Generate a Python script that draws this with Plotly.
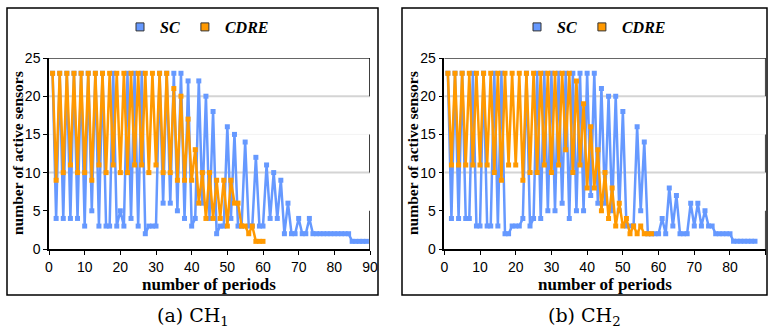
import plotly.graph_objects as go

# ---------------- data ----------------
# (a) CH1
ch1_sc = [23,4,23,4,23,4,23,4,23,3, 23,5,23,3,23,3,3,23,3,5,
          3,23,4,23,3,23,2,3,3,3, 23,6,23,6,23,5,23,4,22,3,
          4,22,6,20,4,18,2,3,3,16, 4,15,3,3,14,3,3,12,3,3,
          11,4,10,4,9,2,6,2,2,4, 2,2,4,2,2,2,2,2,2,2,
          2,2,2,2,1,1,1,1,1]
ch1_cdre = [23,9,23,10,23,11,23,10,23,10, 23,9,23,11,23,10,23,11,23,10,
            23,10,23,11,23,11,23,10,23,11, 23,10,23,10,21,9,20,9,17,9,
            13,6,10,4,10,4,9,4,9,3, 9,6,6,3,3,2,3,1,1,1]
# (b) CH2
ch2_sc = [23,4,23,4,23,4,4,23,3,3, 23,3,3,23,3,23,2,2,3,3,
          3,4,23,3,4,23,4,23,5,23, 5,23,6,23,4,23,5,23,5,23,
          7,23,6,21,6,20,5,20,5,18, 3,3,3,16,5,14,2,2,2,2,
          4,2,8,3,7,2,2,2,6,3, 6,3,5,3,3,2,2,2,2,2,
          1,1,1,1,1,1,1]
ch2_cdre = [23,11,23,11,23,11,23,11,23,11, 23,11,23,10,23,9,23,11,23,11,
            23,9,23,10,23,10,23,11,23,10, 23,11,23,13,23,10,22,11,19,8,
            16,8,13,5,10,4,8,3,6,3, 4,2,3,2,3,2,2,2]

x_ticks = [0, 10, 20, 30, 40, 50, 60, 70, 80, 90]
y_ticks = [0, 5, 10, 15, 20, 25]
series_names = ["SC", "CDRE"]
captions = ["(a) CH<sub>1</sub>", "(b) CH<sub>2</sub>"]

BLUE = "#6699ff"
ORANGE = "#ff9900"
W, H = 769, 331

fig = go.Figure()

panels = [
    dict(sc=ch1_sc, cdre=ch1_cdre, xa="x", ya="y", leg="legend"),
    dict(sc=ch2_sc, cdre=ch2_cdre, xa="x2", ya="y2", leg="legend2"),
]
for pn in panels:
    for name, vals, col in [(series_names[0], pn["sc"], BLUE), (series_names[1], pn["cdre"], ORANGE)]:
        fig.add_trace(go.Scatter(
            x=list(range(1, len(vals) + 1)), y=vals, mode="lines+markers",
            line=dict(color=col, width=2.5), marker=dict(symbol="square", size=5, color=col),
            xaxis=pn["xa"], yaxis=pn["ya"], showlegend=False, hoverinfo="skip"))
    for name, col in [(series_names[0], BLUE), (series_names[1], ORANGE)]:
        fig.add_trace(go.Scatter(
            x=[None], y=[None], mode="markers", name=name,
            marker=dict(symbol="square", size=8, color=col, line=dict(color="#333333", width=1)),
            xaxis=pn["xa"], yaxis=pn["ya"], legend=pn["leg"], showlegend=True))

def px2x(p):
    return p / W

def px2y(p):
    return 1 - p / H

axis_common = dict(
    showgrid=False, zeroline=False, showline=True, linecolor="black", linewidth=1.5,
    ticks="outside", ticklen=4, tickcolor="black", tickwidth=1, automargin=False,
    tickfont=dict(family="Liberation Sans", size=14, color="black"),
)
xdoms = [[px2x(49), px2x(370)], [px2x(444.3), px2x(765.7)]]
ydom = [px2y(249), px2y(58)]

layout = dict(
    width=W, height=H, margin=dict(l=0, r=0, t=0, b=0, pad=0, autoexpand=False),
    paper_bgcolor="white", plot_bgcolor="white",
    xaxis=dict(domain=xdoms[0], range=[0, 90], tickvals=x_ticks, anchor="y", **axis_common),
    yaxis=dict(domain=ydom, range=[0, 25], tickvals=y_ticks, anchor="x", **axis_common),
    xaxis2=dict(domain=xdoms[1], range=[0, 90], tickvals=x_ticks, anchor="y2", **axis_common),
    yaxis2=dict(domain=ydom, range=[0, 25], tickvals=y_ticks, anchor="x2", **axis_common),
)
legfont = dict(family="Liberation Serif", size=16, color="black", weight="bold", style="italic")
layout["legend"] = dict(orientation="h", x=px2x(120), y=px2y(27), xanchor="left", yanchor="middle",
                        font=legfont, bgcolor="rgba(0,0,0,0)", itemwidth=30)
layout["legend2"] = dict(orientation="h", x=px2x(517), y=px2y(27), xanchor="left", yanchor="middle",
                         font=legfont, bgcolor="rgba(0,0,0,0)", itemwidth=30)
fig.update_layout(**layout)

shapes = []
annotations = []
frames = [(7, 378), (402, 767)]
for i, (xa, ya) in enumerate([("x", "y"), ("x2", "y2")]):
    # outer frame
    shapes.append(dict(type="rect", xref="paper", yref="paper",
                       x0=px2x(frames[i][0]), x1=px2x(frames[i][1]), y0=px2y(295), y1=px2y(8),
                       line=dict(color="black", width=1.5), layer="below"))
    # gridlines
    for gy, gc, gw in [(10, "#d4d4d4", 2), (20, "#d4d4d4", 2), (15, "#f3f3f3", 1)]:
        shapes.append(dict(type="line", xref=xa, yref=ya, x0=0, x1=90, y0=gy, y1=gy,
                           line=dict(color=gc, width=gw), layer="below"))
    # top border
    shapes.append(dict(type="line", xref=xa, yref=ya, x0=0, x1=90, y0=25, y1=25,
                       line=dict(color="#333333", width=1.5), layer="below"))
    # partial right border
    for y0, y1 in [(20, 25), (10, 15), (0, 5)]:
        shapes.append(dict(type="line", xref=xa, yref=ya, x0=90, x1=90, y0=y0, y1=y1,
                           line=dict(color="black", width=1.5), layer="below"))
    xd = xdoms[i]
    annotations.append(dict(text="<b>number of periods</b>", xref="paper", yref="paper",
                            x=(xd[0] + xd[1]) / 2, y=px2y(284), xanchor="center", yanchor="middle",
                            showarrow=False, font=dict(family="Liberation Serif", size=17, color="black")))
    annotations.append(dict(text="<b>number of active sensors</b>", xref="paper", yref="paper",
                            x=px2x(frames[i][0] + 10), y=px2y(153), xanchor="center", yanchor="middle",
                            textangle=-90, showarrow=False,
                            font=dict(family="Liberation Serif", size=15.5, color="black")))
    cx = (frames[i][0] + frames[i][1]) / 2
    annotations.append(dict(text=captions[i], xref="paper", yref="paper",
                            x=px2x(cx), y=px2y(316), xanchor="center", yanchor="middle",
                            showarrow=False, font=dict(family="DejaVu Serif", size=19, color="black")))

fig.update_layout(shapes=shapes, annotations=annotations)
fig.write_html("out.html")
